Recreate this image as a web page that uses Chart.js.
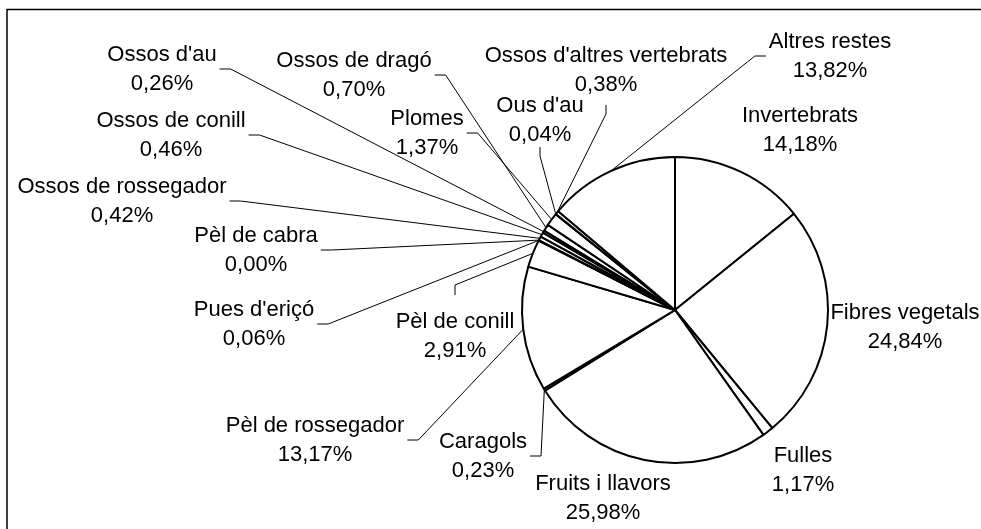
<!DOCTYPE html>
<html>
<head>
<meta charset="utf-8">
<title>Composició de les restes</title>
<script src="https://cdn.jsdelivr.net/npm/chart.js@4/dist/chart.umd.min.js"></script>
<style>
html, body { margin: 0; padding: 0; background: #fff; }
</style>
</head>
<body>
<canvas id="pieChart" width="981" height="529"></canvas>
<script>
// categories, clockwise from 12 o'clock
const categories = [
  "Invertebrats", "Fibres vegetals", "Fulles", "Fruits i llavors", "Caragols",
  "Pèl de rossegador", "Pèl de conill", "Pues d'eriçó", "Pèl de cabra",
  "Ossos de rossegador", "Ossos de conill", "Ossos d'au", "Ossos de dragó",
  "Plomes", "Ous d'au", "Ossos d'altres vertebrats", "Altres restes"
];
// percentages
const shares = [
  14.18, 24.84, 1.17, 25.98, 0.23,
  13.17, 2.91, 0.06, 0.00,
  0.42, 0.46, 0.26, 0.70,
  1.37, 0.04, 0.38, 13.82
];

// where each label sits (block centre) and which side the leader line leaves from
const labelSpots = [
  { x: 800, y: 130 },
  { x: 905, y: 327 },
  { x: 803, y: 470 },
  { x: 603, y: 498 },
  { x: 483, y: 456, side: "r" },
  { x: 315, y: 440, side: "r" },
  { x: 455, y: 336, side: "t", off: 41 },
  { x: 254, y: 324, side: "r" },
  { x: 256, y: 250, side: "r" },
  { x: 122, y: 201, side: "r" },
  { x: 171, y: 135, side: "r" },
  { x: 162, y: 69, side: "r" },
  { x: 354, y: 75, side: "r" },
  { x: 427, y: 133, side: "r" },
  { x: 540, y: 120, side: "b", off: 27 },
  { x: 606, y: 70, side: "b", off: 35 },
  { x: 830, y: 56, side: "l" }
];

function pct(v) {
  return v.toFixed(2).replace(".", ",") + "%";
}

const labelPlugin = {
  id: "outsideLabels",
  afterDraw(chart) {
    const ctx = chart.ctx;
    const arcs = chart.getDatasetMeta(0).data;

    // frame (only top and left edges are visible in the original)
    ctx.save();
    ctx.strokeStyle = "#000";
    ctx.lineWidth = 1.5;
    ctx.beginPath();
    ctx.moveTo(981, 9.5);
    ctx.lineTo(7, 9.5);
    ctx.lineTo(7, 529);
    ctx.stroke();

    ctx.font = '22px "Liberation Sans", Arial, sans-serif';
    ctx.fillStyle = "#000";
    ctx.textAlign = "center";
    ctx.textBaseline = "middle";
    ctx.lineWidth = 1;

    categories.forEach((name, i) => {
      const spot = labelSpots[i];
      const line2 = pct(shares[i]);
      ctx.fillText(name, spot.x, spot.y - 14.5);
      ctx.fillText(line2, spot.x, spot.y + 14.5);

      if (!spot.side) return;
      const arc = arcs[i];
      const mid = (arc.startAngle + arc.endAngle) / 2;
      const ex = arc.x + Math.cos(mid) * arc.outerRadius;
      const ey = arc.y + Math.sin(mid) * arc.outerRadius;

      const half = Math.max(ctx.measureText(name).width, ctx.measureText(line2).width) / 2;
      let sx, sy, kx, ky;
      if (spot.side === "r") {
        sx = spot.x + half + 3; sy = spot.y; kx = sx + 11; ky = sy;
      } else if (spot.side === "l") {
        sx = spot.x - half - 3; sy = spot.y; kx = sx - 11; ky = sy;
      } else if (spot.side === "b") {
        sx = spot.x; sy = spot.y + spot.off; kx = sx; ky = sy + 9;
      } else {
        sx = spot.x; sy = spot.y - spot.off; kx = sx; ky = sy - 10;
      }
      ctx.beginPath();
      ctx.moveTo(sx, sy);
      ctx.lineTo(kx, ky);
      ctx.lineTo(ex, ey);
      ctx.stroke();
    });
    ctx.restore();
  }
};

const chart = new Chart(document.getElementById("pieChart"), {
  type: "pie",
  data: {
    labels: categories,
    datasets: [{
      data: shares,
      backgroundColor: "#fff",
      borderColor: "#000",
      borderWidth: 2
    }]
  },
  options: {
    responsive: false,
    animation: false,
    events: [],
    radius: 153,
    layout: { padding: { left: 515, right: 146, top: 150, bottom: 59 } },
    plugins: {
      legend: { display: false },
      tooltip: { enabled: false }
    }
  },
  plugins: [labelPlugin]
});
</script>
</body>
</html>
